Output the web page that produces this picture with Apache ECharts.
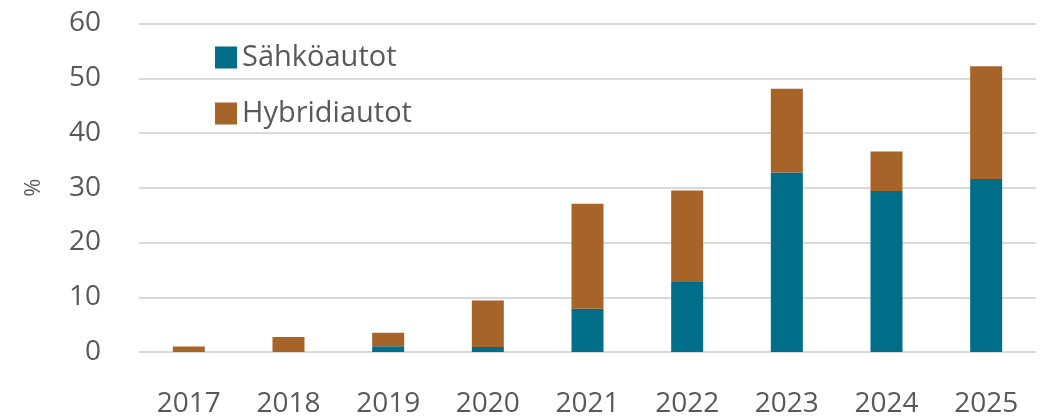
<!DOCTYPE html>
<html>
<head>
<meta charset="utf-8">
<script src="https://cdn.jsdelivr.net/npm/echarts@6/dist/echarts.min.js"></script>
<style>
    html, body { margin: 0; padding: 0; background: #fff; }
    #main { width: 1056px; height: 418px; }
</style>
</head>
<body>
<div id="main"></div>
<script>
// vuodet
const years = ['2017', '2018', '2019', '2020', '2021', '2022', '2023', '2024', '2025']
// osuudet, %
const electric = [0, 0, 1.05, 0.9, 7.9, 12.8, 32.8, 29.4, 31.6]
const hybridTotal = [1.0, 2.75, 3.5, 9.4, 27.1, 29.5, 48.1, 36.6, 52.2]
const hybrid = hybridTotal.map((t, i) => +(t - electric[i]).toFixed(2))
const yTicks = [0, 10, 20, 30, 40, 50, 60]

const textColor = '#595959'
const font = 'Open Sans'

const chart = echarts.init(document.getElementById('main'))

const option = {
    animation: false,
    textStyle: { fontFamily: font },
    grid: {
        left: 139,
        right: 20,
        top: 23.5,
        bottom: 64.5,
    },
    legend: {
        orient: 'vertical',
        left: 210,
        top: 38,
        itemWidth: 22,
        itemHeight: 22,
        itemGap: 27,
        icon: 'rect',
        textStyle: { color: textColor, fontSize: 29, fontFamily: font },
        data: ['Sähköautot', 'Hybridiautot'],
    },
    xAxis: {
        type: 'category',
        data: years,
        axisLine: { show: false },
        axisTick: { show: false },
        axisLabel: {
            color: textColor,
            fontSize: 28,
            margin: 38,
        },
    },
    yAxis: {
        type: 'value',
        min: yTicks[0],
        max: yTicks[yTicks.length - 1],
        interval: 10,
        name: '%',
        nameLocation: 'middle',
        nameRotate: 90,
        nameGap: 94,
        nameTextStyle: { color: textColor, fontSize: 22 },
        axisLine: { show: false },
        axisTick: { show: false },
        axisLabel: {
            color: textColor,
            fontSize: 28,
            margin: 38,
        },
        splitLine: {
            lineStyle: { color: '#d9d9d9', width: 2 },
        },
    },
    series: [
        {
            name: 'Sähköautot',
            type: 'bar',
            stack: 'total',
            barWidth: 32,
            itemStyle: { color: '#006e89' },
            data: electric,
        },
        {
            name: 'Hybridiautot',
            type: 'bar',
            stack: 'total',
            barWidth: 32,
            itemStyle: { color: '#a66428' },
            data: hybrid,
        },
    ],
}

chart.setOption(option)
</script>
</body>
</html>
